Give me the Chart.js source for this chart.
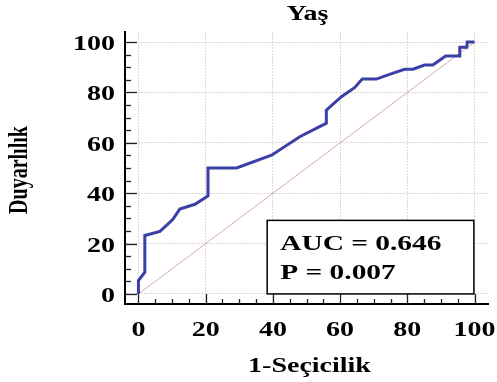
<!DOCTYPE html>
<html>
<head>
<meta charset="utf-8">
<script src="https://cdn.jsdelivr.net/npm/chart.js@4"></script>
<style>
  html, body { margin: 0; padding: 0; background: #fff; }
  #wrap { width: 497px; height: 382px; }
</style>
</head>
<body>
<div id="wrap"><canvas id="myChart" width="497" height="382"></canvas></div>
<script>
// ROC curve (1-Seçicilik, Duyarlılık)
const fpr = [0, 0, 1.9, 1.9, 6.4, 10.2, 12.3, 16.8, 20.7, 20.7, 29.2, 39.6, 48, 53.9, 55.9, 55.9, 60.4, 64.3, 66.6, 70.8, 74.7, 79.2, 81.7, 85.1, 87.6, 91.4, 95.4, 95.6, 97.7, 97.8, 100];
const tpr = [0, 5.3, 8.6, 23.2, 24.8, 29.5, 33.7, 35.6, 38.9, 50, 50, 55.1, 62.4, 66.4, 67.7, 73, 78.3, 81.9, 85.3, 85.3, 87.2, 89.2, 89.2, 90.9, 90.9, 94.5, 94.5, 97.9, 97.9, 100, 100];
const refX = [0, 100];
const refY = [0, 100];
const tickValues = [0, 20, 40, 60, 80, 100];
const chartTitle = 'Yaş';
const xTitle = '1-Seçicilik';
const yTitle = 'Duyarlılık';
const statLines = ['AUC = 0.646', 'P = 0.007'];

const serif = '"Liberation Serif", "Times New Roman", serif';
const SX = 1.4; // the reference text is drawn wide

const rocPoints = fpr.map((x, i) => ({ x: x, y: tpr[i] }));
const refPoints = refX.map((x, i) => ({ x: x, y: refY[i] }));

function wideText(ctx, text, x, y, align, baseline, size) {
  ctx.save();
  ctx.font = 'bold ' + size + 'px ' + serif;
  ctx.textAlign = align;
  ctx.textBaseline = baseline;
  ctx.translate(x, y);
  ctx.scale(SX, 1);
  ctx.fillText(text, 0, 0);
  ctx.restore();
}

// titles, tick labels, inward ticks and the stats box
const extras = {
  id: 'extras',
  afterDraw(chart) {
    const { ctx, chartArea, scales } = chart;
    const xs = scales.x, ys = scales.y;
    const midX = (chartArea.left + chartArea.right) / 2;
    ctx.save();
    ctx.fillStyle = '#000';

    wideText(ctx, chartTitle, midX + 1, 20, 'center', 'alphabetic', 20);
    wideText(ctx, xTitle, midX + 3, 372, 'center', 'alphabetic', 20);

    ctx.save();
    ctx.translate(27, (chartArea.top + chartArea.bottom) / 2 + 2);
    ctx.rotate(-Math.PI / 2);
    ctx.scale(1, SX);
    ctx.font = 'bold 20px ' + serif;
    ctx.textAlign = 'center';
    ctx.textBaseline = 'alphabetic';
    ctx.fillText(yTitle, 0, 0);
    ctx.restore();

    xs.ticks.forEach(t => {
      wideText(ctx, String(t.value), xs.getPixelForValue(t.value), 336, 'center', 'alphabetic', 20);
    });
    ys.ticks.forEach(t => {
      wideText(ctx, String(t.value), 115, ys.getPixelForValue(t.value) + 8, 'right', 'alphabetic', 20);
    });

    ctx.strokeStyle = '#222';
    ctx.lineWidth = 1.3;
    for (let v = 0; v <= 100; v += 5) {
      const major = v % 20 === 0;
      const py = Math.round(ys.getPixelForValue(v)) + 0.5;
      ctx.beginPath();
      ctx.moveTo(chartArea.left, py);
      ctx.lineTo(chartArea.left + (major ? 12 : 6), py);
      ctx.stroke();
      const px = Math.round(xs.getPixelForValue(v)) + 0.5;
      ctx.beginPath();
      ctx.moveTo(px, chartArea.bottom);
      ctx.lineTo(px, chartArea.bottom - (major ? 10 : 5));
      ctx.stroke();
    }

    const bx1 = xs.getPixelForValue(38.3), bx2 = xs.getPixelForValue(99.8);
    const by1 = ys.getPixelForValue(29.2), by2 = ys.getPixelForValue(0);
    ctx.fillStyle = '#fff';
    ctx.fillRect(bx1, by1, bx2 - bx1, by2 - by1);
    ctx.strokeStyle = '#000';
    ctx.lineWidth = 1.5;
    ctx.strokeRect(bx1, by1, bx2 - bx1, by2 - by1);
    ctx.fillStyle = '#000';
    wideText(ctx, statLines[0], bx1 + 13, by1 + 30, 'left', 'alphabetic', 21);
    wideText(ctx, statLines[1], bx1 + 13, by1 + 59, 'left', 'alphabetic', 21);
    ctx.restore();
  }
};

const ctx = document.getElementById('myChart').getContext('2d');

new Chart(ctx, {
  type: 'scatter',
  data: {
    datasets: [{
      data: refPoints,
      showLine: true,
      borderColor: '#d6a9ac',
      borderWidth: 1,
      pointRadius: 0,
      order: 2
    }, {
      data: rocPoints,
      showLine: true,
      borderColor: '#3b40a4',
      borderWidth: 3,
      pointRadius: 0,
      tension: 0,
      order: 1
    }]
  },
  options: {
    responsive: false,
    animation: false,
    layout: {
      padding: { top: 32, right: 9, left: 0, bottom: 0 }
    },
    scales: {
      x: {
        type: 'linear',
        min: -4,
        max: 104,
        afterFit: s => { s.height = 78; },
        afterBuildTicks: s => { s.ticks = tickValues.map(v => ({ value: v })); },
        grid: { color: '#d9d9d9', lineWidth: 1, drawTicks: false },
        border: { color: '#000', width: 2, dash: [2, 1] },
        ticks: { display: false }
      },
      y: {
        type: 'linear',
        min: -4,
        max: 104,
        afterFit: s => { s.width = 125; },
        afterBuildTicks: s => { s.ticks = tickValues.map(v => ({ value: v })); },
        grid: { color: '#d9d9d9', lineWidth: 1, drawTicks: false },
        border: { color: '#000', width: 2, dash: [2, 1] },
        ticks: { display: false }
      }
    },
    plugins: {
      legend: { display: false },
      tooltip: { enabled: false }
    }
  },
  plugins: [extras]
});
</script>
</body>
</html>
